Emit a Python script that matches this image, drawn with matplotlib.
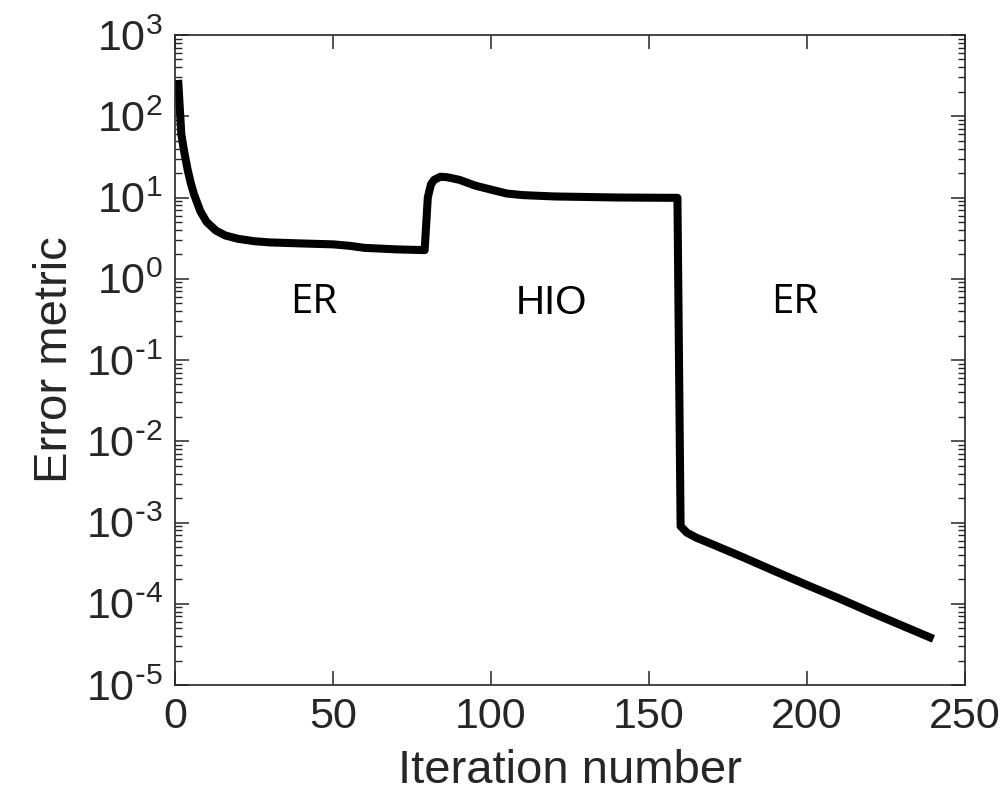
import matplotlib
matplotlib.use('Agg')
import matplotlib.pyplot as plt
from matplotlib.ticker import LogLocator, NullFormatter, FuncFormatter
import numpy as np

# Error metric vs iteration
iters = [1, 2, 3, 4, 5, 6, 8, 10, 13, 16, 20, 25, 30, 40, 50, 55, 60, 70, 79,
         80, 81, 82, 84, 86, 90, 95, 100, 105, 110, 120, 140, 159,
         160, 162, 165, 170, 180, 190, 200, 210, 220, 230, 240]
error = [280, 60, 35, 22, 15, 11, 6.8, 5.0, 3.9, 3.4, 3.1, 2.9, 2.8, 2.72, 2.65, 2.55, 2.4, 2.3, 2.25,
         10, 14.5, 16.5, 18, 17.8, 16.5, 14, 12.5, 11.2, 10.7, 10.3, 10.0, 9.9,
         9e-4, 7.5e-4, 6.5e-4, 5.4e-4, 3.7e-4, 2.5e-4, 1.7e-4, 1.17e-4, 7.9e-5, 5.4e-5, 3.7e-5]

phase_labels = ['ER', 'HIO', 'ER']
phase_x = [44, 119, 196]
phase_y = 0.5

plt.rcParams['font.family'] = ['Liberation Sans', 'DejaVu Sans']
plt.rcParams['mathtext.default'] = 'regular'
plt.rcParams['axes.unicode_minus'] = False
txt = '#262626'


def exp_label(v, pos):
    e = int(round(np.log10(v)))
    if e < 0:
        return r'$10^{\text{-}%d}$' % (-e)
    return r'$10^{%d}$' % e


fig = plt.figure(figsize=(10.04, 8.09), dpi=100)
ax = fig.add_axes([175 / 1004, 1 - 685 / 809, 790 / 1004, 650 / 809])

ax.plot(iters, error, color='black', linewidth=5.8,
        solid_capstyle='butt', solid_joinstyle='round')

ax.set_yscale('log')
ax.set_xlim(0, 250)
ax.set_ylim(1e-5, 1e3)
ax.set_xticks([0, 50, 100, 150, 200, 250])
ax.yaxis.set_major_locator(LogLocator(base=10, numticks=20))
ax.yaxis.set_minor_locator(LogLocator(base=10, subs=range(2, 10), numticks=20))
ax.yaxis.set_minor_formatter(NullFormatter())
ax.yaxis.set_major_formatter(FuncFormatter(exp_label))

for s in ax.spines.values():
    s.set_color(txt)
    s.set_linewidth(1.2)
ax.tick_params(which='both', direction='in', top=True, right=True, color=txt, labelcolor=txt)
ax.tick_params(which='major', length=10, width=1.1, labelsize=31, pad=9)
ax.tick_params(which='minor', length=5, width=1.0)

ax.set_xlabel('Iteration number', fontsize=34, labelpad=8, color=txt)
ax.set_ylabel('Error metric', fontsize=34, labelpad=6, color=txt)

for lab, xp in zip(phase_labels, phase_x):
    ax.text(xp, phase_y, lab, fontsize=29, ha='center', va='center',
            family=['Open Sans', 'DejaVu Sans'] if lab == 'ER' else ['Liberation Sans', 'DejaVu Sans'])

fig.savefig('out.png', dpi=100)
